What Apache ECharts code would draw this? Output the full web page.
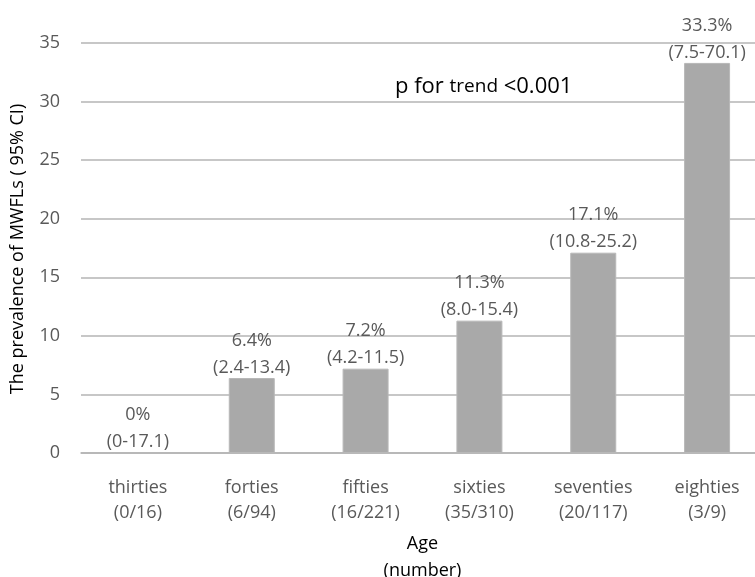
<!DOCTYPE html>
<html>
<head>
<meta charset="utf-8">
<script src="https://cdn.jsdelivr.net/npm/echarts@6/dist/echarts.min.js"></script>
<style>
  html, body { margin: 0; padding: 0; background: #fff; }
  #chart { width: 755px; height: 577px; }
</style>
</head>
<body>
<div id="chart"></div>
<script>
  // 年龄组和样本数
  var ageGroups = ['thirties', 'forties', 'fifties', 'sixties', 'seventies', 'eighties'];
  var counts = ['0/16', '6/94', '16/221', '35/310', '20/117', '3/9'];
  // 患病率和95% CI
  var prevalence = [0, 6.4, 7.2, 11.3, 17.1, 33.3];
  var ciLabels = ['0-17.1', '2.4-13.4', '4.2-11.5', '8.0-15.4', '10.8-25.2', '7.5-70.1'];
  var pctLabels = ['0%', '6.4%', '7.2%', '11.3%', '17.1%', '33.3%'];

  var font = '"Open Sans", sans-serif';
  var myChart = echarts.init(document.getElementById('chart'));

  var option = {
    animation: false,
    textStyle: { fontFamily: font },
    grid: { left: 81, right: -9, top: 43, bottom: 124, outerBoundsMode: 'none' },
    xAxis: {
      type: 'category',
      data: ageGroups,
      axisLine: { lineStyle: { color: '#b4b4b4', width: 1.5 } },
      axisTick: { show: false },
      axisLabel: {
        color: '#595959', fontSize: 18, lineHeight: 25, margin: 22,
        fontFamily: font,
        formatter: function (v, i) { return v + '\n(' + counts[i] + ')'; }
      },
      name: 'Age\n(number)',
      nameLocation: 'middle',
      nameGap: 71,
      nameTextStyle: { color: '#000', fontSize: 18, lineHeight: 27, fontFamily: font }
    },
    yAxis: {
      type: 'value',
      min: 0, max: 35, interval: 5,
      axisLine: { show: false },
      axisTick: { show: false },
      splitLine: { lineStyle: { color: '#b4b4b4', width: 1.5 } },
      axisLabel: { color: '#595959', fontSize: 18, margin: 21, fontFamily: font }
    },
    series: [{
      type: 'bar',
      data: prevalence,
      barWidth: 46,
      itemStyle: { color: '#a9a9a9', borderColor: '#b8b8b8', borderWidth: 1 },
      label: {
        show: true,
        position: 'top',
        distance: -3,
        color: '#595959',
        fontSize: 18,
        lineHeight: 27,
        fontFamily: font,
        formatter: function (p) {
          return pctLabels[p.dataIndex] + '\n(' + ciLabels[p.dataIndex] + ')';
        }
      }
    }],
    graphic: [{
      // y轴标题，手动放置
      type: 'text',
      x: 18,
      y: 249,
      rotation: Math.PI / 2,
      style: {
        text: 'The prevalence of MWFLs ( 95% CI)',
        fontSize: 18,
        fill: '#000',
        fontFamily: font,
        textAlign: 'center',
        textVerticalAlign: 'middle'
      }
    }, {
      type: 'text',
      left: 395,
      top: 76,
      style: {
        text: '{a|p for }{b|trend}{a| <0.001}',
        rich: {
          a: { fontSize: 22, fill: '#000', fontFamily: font },
          b: { fontSize: 19, fill: '#000', fontFamily: font }
        }
      }
    }]
  };

  myChart.setOption(option);
  window.onresize = function () {
    myChart.resize();
  };
</script>
</body>
</html>
